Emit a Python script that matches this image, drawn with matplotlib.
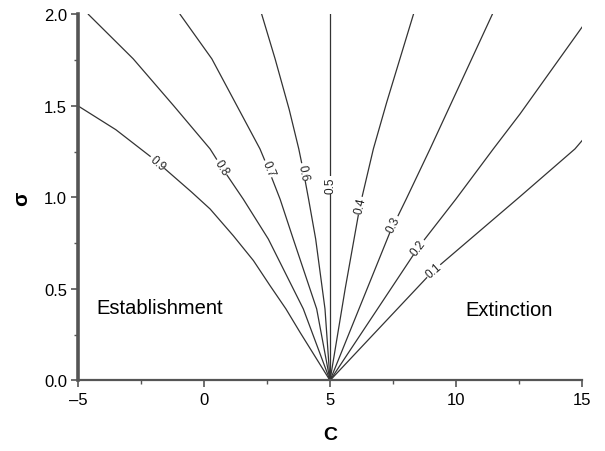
import numpy as np
import matplotlib.pyplot as plt

plt.rcParams['font.family'] = ['Liberation Sans', 'DejaVu Sans']

# contour lines: (C, sigma) points per level
levels = ['0.9', '0.8', '0.7', '0.6', '0.5', '0.4', '0.3', '0.2', '0.1']
curve_c = {
    '0.9': [-5.0, -3.5, -2.0, -0.5, 0.24, 1.16, 1.96, 2.62, 3.25, 3.81, 5.0],
    '0.8': [-4.59, -2.81, -1.2, 0.24, 0.70, 1.56, 2.55, 3.94, 5.0],
    '0.7': [-0.95, 0.31, 2.22, 2.55, 3.02, 3.54, 4.47, 5.0],
    '0.6': [2.29, 2.82, 3.38, 3.76, 3.95, 4.15, 4.43, 4.80, 5.0],
    '0.5': [5.0, 5.0],
    '0.4': [5.0, 5.6, 6.19, 6.72, 7.25, 8.31],
    '0.3': [5.0, 7.38, 8.02, 8.97, 9.76, 11.44],
    '0.2': [5.0, 8.51, 9.99, 11.48, 12.54, 15.0],
    '0.1': [5.0, 9.1, 12.5, 14.72, 15.0],
}
curve_s = {
    '0.9': [1.5, 1.37, 1.21, 1.03, 0.937, 0.791, 0.655, 0.518, 0.391, 0.263, 0.0],
    '0.8': [2.0, 1.757, 1.5, 1.265, 1.165, 0.99, 0.773, 0.391, 0.0],
    '0.7': [2.0, 1.757, 1.265, 1.156, 0.99, 0.773, 0.391, 0.0],
    '0.6': [2.0, 1.757, 1.48, 1.265, 1.138, 0.99, 0.773, 0.391, 0.0],
    '0.5': [0.0, 2.0],
    '0.4': [0.0, 0.5, 0.955, 1.265, 1.52, 2.0],
    '0.3': [0.0, 0.81, 0.99, 1.265, 1.50, 2.0],
    '0.2': [0.0, 0.728, 0.99, 1.265, 1.456, 1.93],
    '0.1': [0.0, 0.60, 1.0, 1.265, 1.31],
}
# where each level label sits
label_c = [-1.85, 0.70, 2.55, 3.94, 5.0, 6.19, 7.51, 8.51, 9.10]
label_s = [1.19, 1.165, 1.156, 1.138, 1.07, 0.955, 0.855, 0.728, 0.60]

fig = plt.figure(figsize=(6.05, 4.52), dpi=100)
ax = fig.add_axes([0.129, 0.156, 0.833, 0.810])

for lev in levels:
    ax.plot(curve_c[lev], curve_s[lev], color='#333333', lw=0.9)

ax.set_xlim(-5, 15)
ax.set_ylim(0, 2.0)


def local_angle(xs, ys, x0, y0):
    xs = np.asarray(xs, float)
    ys = np.asarray(ys, float)
    mx = (xs[:-1] + xs[1:]) / 2
    my = (ys[:-1] + ys[1:]) / 2
    i = np.argmin((mx - x0) ** 2 / 100 + (my - y0) ** 2)
    # screen-space angle
    p0 = ax.transData.transform((xs[i], ys[i]))
    p1 = ax.transData.transform((xs[i + 1], ys[i + 1]))
    a = np.degrees(np.arctan2(p1[1] - p0[1], p1[0] - p0[0]))
    if a > 90:
        a -= 180
    if a <= -90:
        a += 180
    return a


for lev, lc, ls in zip(levels, label_c, label_s):
    ang = local_angle(curve_c[lev], curve_s[lev], lc, ls)
    ax.text(lc, ls, lev, fontsize=8.5, rotation=ang, rotation_mode='anchor',
            ha='center', va='center', color='#222222',
            bbox=dict(facecolor='white', edgecolor='none', pad=0.6))

ax.text(-4.29, 0.40, 'Establishment', fontsize=14.5, va='center', ha='left')
ax.text(10.36, 0.39, 'Extinction', fontsize=14.5, va='center', ha='left')

ax.set_xticks([-5, 0, 5, 10, 15])
ax.set_xticklabels(['\u20135', '0', '5', '10', '15'])
ax.set_xticks([-2.5, 2.5, 7.5, 12.5], minor=True)
ax.set_yticks([0.0, 0.5, 1.0, 1.5, 2.0])
ax.set_yticklabels(['0.0', '0.5', '1.0', '1.5', '2.0'])
ax.set_yticks([0.25, 0.75, 1.25, 1.75], minor=True)
ax.tick_params(axis='both', which='major', labelsize=12, length=5, width=1.2,
               color='#555555', direction='out', pad=3)
ax.tick_params(axis='both', which='minor', length=3, width=1.0, color='#555555')

ax.spines['top'].set_visible(False)
ax.spines['right'].set_visible(False)
ax.spines['left'].set_linewidth(2.6)
ax.spines['left'].set_color('#555555')
ax.spines['bottom'].set_linewidth(1.6)
ax.spines['bottom'].set_color('#555555')

ax.set_xlabel('C', fontsize=14, fontweight='bold', labelpad=14)
ax.set_ylabel('\u03c3', fontsize=15, fontweight='bold', labelpad=9)

fig.savefig('out.png', dpi=100)
